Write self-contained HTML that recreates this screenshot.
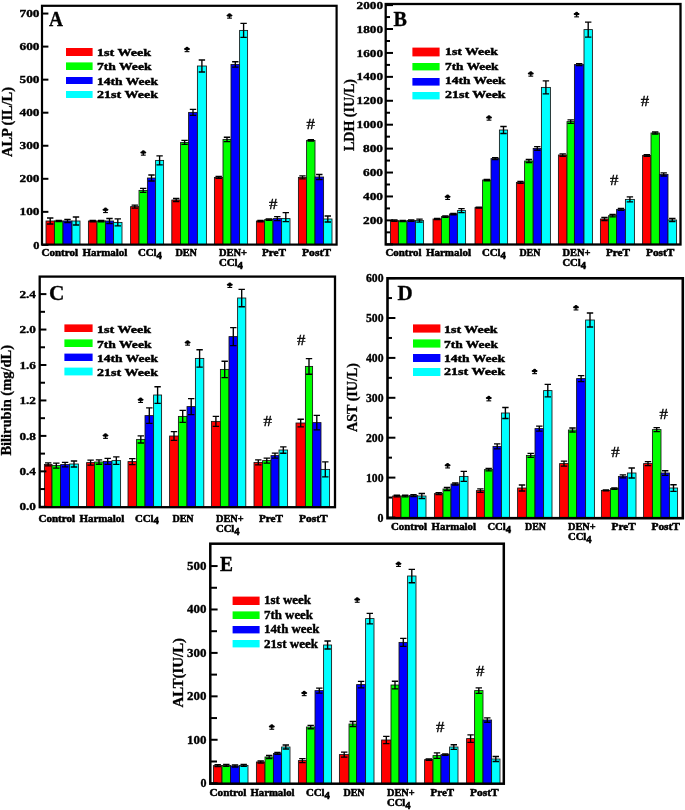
<!DOCTYPE html>
<html><head><meta charset="utf-8"><title>Figure</title>
<style>html,body{margin:0;padding:0;background:#fff;}svg{display:block;will-change:transform;}text{font-family:"Liberation Serif",serif;}</style></head>
<body>
<svg width="685" height="810" viewBox="0 0 685 810" font-family="'Liberation Serif', serif" fill="#000">
<rect width="685" height="810" fill="#fff"/>
<g>
<rect x="46.00" y="221.00" width="8.40" height="23.60" fill="#ff0000" stroke="#151515" stroke-width="0.85"/>
<rect x="54.40" y="221.00" width="8.60" height="23.60" fill="#00ff00" stroke="#151515" stroke-width="0.85"/>
<rect x="63.00" y="221.00" width="9.00" height="23.60" fill="#0000ff" stroke="#151515" stroke-width="0.85"/>
<rect x="72.00" y="221.00" width="8.00" height="23.60" fill="#00ffff" stroke="#151515" stroke-width="0.85"/>
<path d="M50.20 218.00V224.00M47.00 218.00H53.40M47.00 224.00H53.40" stroke="#000" stroke-width="1.35" fill="none"/>
<path d="M58.70 220.40V221.60M55.50 220.40H61.90M55.50 221.60H61.90" stroke="#000" stroke-width="1.35" fill="none"/>
<path d="M67.50 219.50V222.50M64.30 219.50H70.70M64.30 222.50H70.70" stroke="#000" stroke-width="1.35" fill="none"/>
<path d="M76.00 217.00V225.00M72.80 217.00H79.20M72.80 225.00H79.20" stroke="#000" stroke-width="1.35" fill="none"/>
<rect x="88.40" y="221.00" width="8.60" height="23.60" fill="#ff0000" stroke="#151515" stroke-width="0.85"/>
<rect x="97.00" y="221.00" width="8.40" height="23.60" fill="#00ff00" stroke="#151515" stroke-width="0.85"/>
<rect x="105.40" y="221.00" width="8.20" height="23.60" fill="#0000ff" stroke="#151515" stroke-width="0.85"/>
<rect x="113.60" y="222.40" width="8.40" height="22.20" fill="#00ffff" stroke="#151515" stroke-width="0.85"/>
<path d="M92.70 220.30V221.70M89.50 220.30H95.90M89.50 221.70H95.90" stroke="#000" stroke-width="1.35" fill="none"/>
<path d="M101.20 220.30V221.70M98.00 220.30H104.40M98.00 221.70H104.40" stroke="#000" stroke-width="1.35" fill="none"/>
<path d="M109.50 218.50V223.50M106.30 218.50H112.70M106.30 223.50H112.70" stroke="#000" stroke-width="1.35" fill="none"/>
<path d="M117.80 218.90V225.90M114.60 218.90H121.00M114.60 225.90H121.00" stroke="#000" stroke-width="1.35" fill="none"/>
<rect x="130.60" y="206.60" width="8.40" height="38.00" fill="#ff0000" stroke="#151515" stroke-width="0.85"/>
<rect x="139.00" y="190.40" width="8.40" height="54.20" fill="#00ff00" stroke="#151515" stroke-width="0.85"/>
<rect x="147.40" y="178.00" width="8.20" height="66.60" fill="#0000ff" stroke="#151515" stroke-width="0.85"/>
<rect x="155.60" y="160.40" width="8.00" height="84.20" fill="#00ffff" stroke="#151515" stroke-width="0.85"/>
<path d="M134.80 205.10V208.10M131.60 205.10H138.00M131.60 208.10H138.00" stroke="#000" stroke-width="1.35" fill="none"/>
<path d="M143.20 188.40V192.40M140.00 188.40H146.40M140.00 192.40H146.40" stroke="#000" stroke-width="1.35" fill="none"/>
<path d="M151.50 175.00V181.00M148.30 175.00H154.70M148.30 181.00H154.70" stroke="#000" stroke-width="1.35" fill="none"/>
<path d="M159.60 155.90V164.90M156.40 155.90H162.80M156.40 164.90H162.80" stroke="#000" stroke-width="1.35" fill="none"/>
<rect x="171.80" y="200.00" width="8.80" height="44.60" fill="#ff0000" stroke="#151515" stroke-width="0.85"/>
<rect x="180.60" y="142.40" width="8.00" height="102.20" fill="#00ff00" stroke="#151515" stroke-width="0.85"/>
<rect x="188.60" y="112.40" width="8.80" height="132.20" fill="#0000ff" stroke="#151515" stroke-width="0.85"/>
<rect x="197.40" y="66.00" width="9.00" height="178.60" fill="#00ffff" stroke="#151515" stroke-width="0.85"/>
<path d="M176.20 198.50V201.50M173.00 198.50H179.40M173.00 201.50H179.40" stroke="#000" stroke-width="1.35" fill="none"/>
<path d="M184.60 140.40V144.40M181.40 140.40H187.80M181.40 144.40H187.80" stroke="#000" stroke-width="1.35" fill="none"/>
<path d="M193.00 109.40V115.40M189.80 109.40H196.20M189.80 115.40H196.20" stroke="#000" stroke-width="1.35" fill="none"/>
<path d="M201.90 60.00V72.00M198.70 60.00H205.10M198.70 72.00H205.10" stroke="#000" stroke-width="1.35" fill="none"/>
<rect x="214.40" y="177.40" width="8.60" height="67.20" fill="#ff0000" stroke="#151515" stroke-width="0.85"/>
<rect x="223.00" y="139.40" width="8.00" height="105.20" fill="#00ff00" stroke="#151515" stroke-width="0.85"/>
<rect x="231.00" y="64.40" width="8.60" height="180.20" fill="#0000ff" stroke="#151515" stroke-width="0.85"/>
<rect x="239.60" y="30.40" width="8.00" height="214.20" fill="#00ffff" stroke="#151515" stroke-width="0.85"/>
<path d="M218.70 176.40V178.40M215.50 176.40H221.90M215.50 178.40H221.90" stroke="#000" stroke-width="1.35" fill="none"/>
<path d="M227.00 137.20V141.60M223.80 137.20H230.20M223.80 141.60H230.20" stroke="#000" stroke-width="1.35" fill="none"/>
<path d="M235.30 61.70V67.10M232.10 61.70H238.50M232.10 67.10H238.50" stroke="#000" stroke-width="1.35" fill="none"/>
<path d="M243.60 23.40V37.40M240.40 23.40H246.80M240.40 37.40H246.80" stroke="#000" stroke-width="1.35" fill="none"/>
<rect x="256.40" y="221.00" width="8.20" height="23.60" fill="#ff0000" stroke="#151515" stroke-width="0.85"/>
<rect x="264.60" y="219.60" width="8.40" height="25.00" fill="#00ff00" stroke="#151515" stroke-width="0.85"/>
<rect x="273.00" y="218.60" width="8.60" height="26.00" fill="#0000ff" stroke="#151515" stroke-width="0.85"/>
<rect x="281.60" y="218.60" width="8.40" height="26.00" fill="#00ffff" stroke="#151515" stroke-width="0.85"/>
<path d="M260.50 220.30V221.70M257.30 220.30H263.70M257.30 221.70H263.70" stroke="#000" stroke-width="1.35" fill="none"/>
<path d="M268.80 218.90V220.30M265.60 218.90H272.00M265.60 220.30H272.00" stroke="#000" stroke-width="1.35" fill="none"/>
<path d="M277.30 216.60V220.60M274.10 216.60H280.50M274.10 220.60H280.50" stroke="#000" stroke-width="1.35" fill="none"/>
<path d="M285.80 212.60V221.60M282.60 212.60H289.00M282.60 221.60H289.00" stroke="#000" stroke-width="1.35" fill="none"/>
<rect x="298.40" y="177.40" width="8.20" height="67.20" fill="#ff0000" stroke="#151515" stroke-width="0.85"/>
<rect x="306.60" y="140.40" width="8.40" height="104.20" fill="#00ff00" stroke="#151515" stroke-width="0.85"/>
<rect x="315.00" y="177.00" width="8.60" height="67.60" fill="#0000ff" stroke="#151515" stroke-width="0.85"/>
<rect x="323.60" y="219.00" width="8.40" height="25.60" fill="#00ffff" stroke="#151515" stroke-width="0.85"/>
<path d="M302.50 175.90V178.90M299.30 175.90H305.70M299.30 178.90H305.70" stroke="#000" stroke-width="1.35" fill="none"/>
<path d="M310.80 139.70V141.10M307.60 139.70H314.00M307.60 141.10H314.00" stroke="#000" stroke-width="1.35" fill="none"/>
<path d="M319.30 174.50V179.50M316.10 174.50H322.50M316.10 179.50H322.50" stroke="#000" stroke-width="1.35" fill="none"/>
<path d="M327.80 216.00V222.00M324.60 216.00H331.00M324.60 222.00H331.00" stroke="#000" stroke-width="1.35" fill="none"/>
<rect x="42.0" y="5.8" width="294.60" height="238.80" fill="none" stroke="#000" stroke-width="2.2"/>
<line x1="42.0" x2="48.4" y1="244.90" y2="244.90" stroke="#000" stroke-width="2"/>
<line x1="42.0" x2="48.4" y1="211.85" y2="211.85" stroke="#000" stroke-width="2"/>
<line x1="42.0" x2="48.4" y1="178.80" y2="178.80" stroke="#000" stroke-width="2"/>
<line x1="42.0" x2="48.4" y1="145.75" y2="145.75" stroke="#000" stroke-width="2"/>
<line x1="42.0" x2="48.4" y1="112.70" y2="112.70" stroke="#000" stroke-width="2"/>
<line x1="42.0" x2="48.4" y1="79.65" y2="79.65" stroke="#000" stroke-width="2"/>
<line x1="42.0" x2="48.4" y1="46.60" y2="46.60" stroke="#000" stroke-width="2"/>
<line x1="42.0" x2="48.4" y1="13.55" y2="13.55" stroke="#000" stroke-width="2"/>
<text x="39.5" y="248.5" font-size="10.5" font-weight="bold" text-anchor="end" textLength="6.2" lengthAdjust="spacingAndGlyphs" stroke="#000" stroke-width="0.35">0</text>
<text x="39.5" y="215.4" font-size="10.5" font-weight="bold" text-anchor="end" textLength="20.0" lengthAdjust="spacingAndGlyphs" stroke="#000" stroke-width="0.35">100</text>
<text x="39.5" y="182.4" font-size="10.5" font-weight="bold" text-anchor="end" textLength="20.0" lengthAdjust="spacingAndGlyphs" stroke="#000" stroke-width="0.35">200</text>
<text x="39.5" y="149.3" font-size="10.5" font-weight="bold" text-anchor="end" textLength="20.0" lengthAdjust="spacingAndGlyphs" stroke="#000" stroke-width="0.35">300</text>
<text x="39.5" y="116.3" font-size="10.5" font-weight="bold" text-anchor="end" textLength="20.0" lengthAdjust="spacingAndGlyphs" stroke="#000" stroke-width="0.35">400</text>
<text x="39.5" y="83.2" font-size="10.5" font-weight="bold" text-anchor="end" textLength="20.0" lengthAdjust="spacingAndGlyphs" stroke="#000" stroke-width="0.35">500</text>
<text x="39.5" y="50.2" font-size="10.5" font-weight="bold" text-anchor="end" textLength="20.0" lengthAdjust="spacingAndGlyphs" stroke="#000" stroke-width="0.35">600</text>
<text x="39.5" y="17.1" font-size="10.5" font-weight="bold" text-anchor="end" textLength="20.0" lengthAdjust="spacingAndGlyphs" stroke="#000" stroke-width="0.35">700</text>
<text x="41.6" y="256.0" font-size="10" font-weight="bold" text-anchor="start" textLength="36.4" lengthAdjust="spacingAndGlyphs" stroke="#000" stroke-width="0.5">Control</text>
<text x="82.4" y="256.0" font-size="10" font-weight="bold" text-anchor="start" textLength="45.0" lengthAdjust="spacingAndGlyphs" stroke="#000" stroke-width="0.5">Harmalol</text>
<text x="138.0" y="256.0" font-size="10" font-weight="bold" text-anchor="start" textLength="24.0" lengthAdjust="spacingAndGlyphs" stroke="#000" stroke-width="0.5">CCl<tspan font-size="10" dy="2.6">4</tspan></text>
<text x="175.4" y="256.0" font-size="10" font-weight="bold" text-anchor="start" textLength="21.6" lengthAdjust="spacingAndGlyphs" stroke="#000" stroke-width="0.5">DEN</text>
<text x="219.0" y="256.0" font-size="10" font-weight="bold" text-anchor="start" textLength="28.0" lengthAdjust="spacingAndGlyphs" stroke="#000" stroke-width="0.5">DEN+</text>
<text x="219.0" y="266.0" font-size="10" font-weight="bold" text-anchor="start" textLength="24.0" lengthAdjust="spacingAndGlyphs" stroke="#000" stroke-width="0.5">CCl<tspan font-size="10" dy="2.6">4</tspan></text>
<text x="262.0" y="256.0" font-size="10" font-weight="bold" text-anchor="start" textLength="24.0" lengthAdjust="spacingAndGlyphs" stroke="#000" stroke-width="0.5">PreT</text>
<text x="302.0" y="256.0" font-size="10" font-weight="bold" text-anchor="start" textLength="29.0" lengthAdjust="spacingAndGlyphs" stroke="#000" stroke-width="0.5">PostT</text>
<text x="49.0" y="25.6" font-size="22" font-weight="bold" text-anchor="start" textLength="14.0" lengthAdjust="spacingAndGlyphs" stroke="#000" stroke-width="0.35">A</text>
<rect x="66" y="48" width="26.60" height="8.00" fill="#ff0000"/>
<rect x="66" y="62.4" width="26.60" height="7.60" fill="#00ff00"/>
<rect x="66" y="77" width="26.60" height="7.00" fill="#0000ff"/>
<rect x="66" y="91" width="26.60" height="7.00" fill="#00ffff"/>
<text x="97.0" y="55.6" font-size="11" font-weight="bold" text-anchor="start" textLength="54.0" lengthAdjust="spacingAndGlyphs" stroke="#000" stroke-width="0.45">1st Week</text>
<text x="97.0" y="69.6" font-size="11" font-weight="bold" text-anchor="start" textLength="54.5" lengthAdjust="spacingAndGlyphs" stroke="#000" stroke-width="0.45">7th Week</text>
<text x="97.0" y="84.6" font-size="11" font-weight="bold" text-anchor="start" textLength="61.0" lengthAdjust="spacingAndGlyphs" stroke="#000" stroke-width="0.45">14th Week</text>
<text x="97.0" y="98.0" font-size="11" font-weight="bold" text-anchor="start" textLength="61.0" lengthAdjust="spacingAndGlyphs" stroke="#000" stroke-width="0.45">21st Week</text>
<text transform="translate(12.3,122.0) rotate(-90)" font-size="14.5" font-weight="bold" stroke="#000" stroke-width="0.3" text-anchor="middle" textLength="70" lengthAdjust="spacingAndGlyphs">ALP (IL/L)</text>
<g transform="translate(105.5,210.4)"><ellipse cx="0" cy="-0.6" rx="3.1" ry="1.25"/><ellipse cx="0" cy="-1.5" rx="1.5" ry="1.35"/><rect x="-0.7" y="-0.5" width="1.4" height="2.6"/><rect x="-2.4" y="1.6" width="4.8" height="1.1"/></g>
<g transform="translate(143.3,153.0)"><ellipse cx="0" cy="-0.6" rx="3.1" ry="1.25"/><ellipse cx="0" cy="-1.5" rx="1.5" ry="1.35"/><rect x="-0.7" y="-0.5" width="1.4" height="2.6"/><rect x="-2.4" y="1.6" width="4.8" height="1.1"/></g>
<g transform="translate(187.0,49.5)"><ellipse cx="0" cy="-0.6" rx="3.1" ry="1.25"/><ellipse cx="0" cy="-1.5" rx="1.5" ry="1.35"/><rect x="-0.7" y="-0.5" width="1.4" height="2.6"/><rect x="-2.4" y="1.6" width="4.8" height="1.1"/></g>
<g transform="translate(229.5,16.0)"><ellipse cx="0" cy="-0.6" rx="3.1" ry="1.25"/><ellipse cx="0" cy="-1.5" rx="1.5" ry="1.35"/><rect x="-0.7" y="-0.5" width="1.4" height="2.6"/><rect x="-2.4" y="1.6" width="4.8" height="1.1"/></g>
<text x="269.1" y="209.2" font-size="15" font-weight="normal" textLength="8.4" lengthAdjust="spacingAndGlyphs" stroke="#000" stroke-width="0.35">#</text>
<text x="306.4" y="128.8" font-size="15" font-weight="normal" textLength="8.4" lengthAdjust="spacingAndGlyphs" stroke="#000" stroke-width="0.35">#</text>
</g>
<g>
<rect x="390.40" y="220.60" width="8.00" height="23.90" fill="#ff0000" stroke="#151515" stroke-width="0.85"/>
<rect x="398.40" y="221.00" width="8.60" height="23.50" fill="#00ff00" stroke="#151515" stroke-width="0.85"/>
<rect x="407.00" y="220.60" width="8.40" height="23.90" fill="#0000ff" stroke="#151515" stroke-width="0.85"/>
<rect x="415.40" y="220.60" width="8.20" height="23.90" fill="#00ffff" stroke="#151515" stroke-width="0.85"/>
<path d="M394.40 219.90V221.30M391.20 219.90H397.60M391.20 221.30H397.60" stroke="#000" stroke-width="1.35" fill="none"/>
<path d="M402.70 220.50V221.50M399.50 220.50H405.90M399.50 221.50H405.90" stroke="#000" stroke-width="1.35" fill="none"/>
<path d="M411.20 219.90V221.30M408.00 219.90H414.40M408.00 221.30H414.40" stroke="#000" stroke-width="1.35" fill="none"/>
<path d="M419.50 219.10V222.10M416.30 219.10H422.70M416.30 222.10H422.70" stroke="#000" stroke-width="1.35" fill="none"/>
<rect x="433.00" y="219.00" width="8.40" height="25.50" fill="#ff0000" stroke="#151515" stroke-width="0.85"/>
<rect x="441.40" y="216.60" width="8.00" height="27.90" fill="#00ff00" stroke="#151515" stroke-width="0.85"/>
<rect x="449.40" y="214.00" width="8.00" height="30.50" fill="#0000ff" stroke="#151515" stroke-width="0.85"/>
<rect x="457.40" y="210.60" width="8.20" height="33.90" fill="#00ffff" stroke="#151515" stroke-width="0.85"/>
<path d="M437.20 218.50V219.50M434.00 218.50H440.40M434.00 219.50H440.40" stroke="#000" stroke-width="1.35" fill="none"/>
<path d="M445.40 215.90V217.30M442.20 215.90H448.60M442.20 217.30H448.60" stroke="#000" stroke-width="1.35" fill="none"/>
<path d="M453.40 213.30V214.70M450.20 213.30H456.60M450.20 214.70H456.60" stroke="#000" stroke-width="1.35" fill="none"/>
<path d="M461.50 208.60V212.60M458.30 208.60H464.70M458.30 212.60H464.70" stroke="#000" stroke-width="1.35" fill="none"/>
<rect x="475.00" y="207.60" width="7.60" height="36.90" fill="#ff0000" stroke="#151515" stroke-width="0.85"/>
<rect x="482.60" y="180.00" width="8.40" height="64.50" fill="#00ff00" stroke="#151515" stroke-width="0.85"/>
<rect x="491.00" y="158.60" width="8.40" height="85.90" fill="#0000ff" stroke="#151515" stroke-width="0.85"/>
<rect x="499.40" y="130.00" width="8.20" height="114.50" fill="#00ffff" stroke="#151515" stroke-width="0.85"/>
<path d="M478.80 207.10V208.10M475.60 207.10H482.00M475.60 208.10H482.00" stroke="#000" stroke-width="1.35" fill="none"/>
<path d="M486.80 179.30V180.70M483.60 179.30H490.00M483.60 180.70H490.00" stroke="#000" stroke-width="1.35" fill="none"/>
<path d="M495.20 157.60V159.60M492.00 157.60H498.40M492.00 159.60H498.40" stroke="#000" stroke-width="1.35" fill="none"/>
<path d="M503.50 126.50V133.50M500.30 126.50H506.70M500.30 133.50H506.70" stroke="#000" stroke-width="1.35" fill="none"/>
<rect x="516.40" y="182.40" width="8.20" height="62.10" fill="#ff0000" stroke="#151515" stroke-width="0.85"/>
<rect x="524.60" y="161.00" width="8.60" height="83.50" fill="#00ff00" stroke="#151515" stroke-width="0.85"/>
<rect x="533.20" y="148.40" width="8.20" height="96.10" fill="#0000ff" stroke="#151515" stroke-width="0.85"/>
<rect x="541.40" y="87.40" width="9.00" height="157.10" fill="#00ffff" stroke="#151515" stroke-width="0.85"/>
<path d="M520.50 181.40V183.40M517.30 181.40H523.70M517.30 183.40H523.70" stroke="#000" stroke-width="1.35" fill="none"/>
<path d="M528.90 159.50V162.50M525.70 159.50H532.10M525.70 162.50H532.10" stroke="#000" stroke-width="1.35" fill="none"/>
<path d="M537.30 146.60V150.20M534.10 146.60H540.50M534.10 150.20H540.50" stroke="#000" stroke-width="1.35" fill="none"/>
<path d="M545.90 80.90V93.90M542.70 80.90H549.10M542.70 93.90H549.10" stroke="#000" stroke-width="1.35" fill="none"/>
<rect x="558.40" y="155.00" width="8.60" height="89.50" fill="#ff0000" stroke="#151515" stroke-width="0.85"/>
<rect x="567.00" y="121.60" width="7.40" height="122.90" fill="#00ff00" stroke="#151515" stroke-width="0.85"/>
<rect x="574.40" y="64.60" width="9.60" height="179.90" fill="#0000ff" stroke="#151515" stroke-width="0.85"/>
<rect x="584.00" y="29.60" width="8.40" height="214.90" fill="#00ffff" stroke="#151515" stroke-width="0.85"/>
<path d="M562.70 153.80V156.20M559.50 153.80H565.90M559.50 156.20H565.90" stroke="#000" stroke-width="1.35" fill="none"/>
<path d="M570.70 119.90V123.30M567.50 119.90H573.90M567.50 123.30H573.90" stroke="#000" stroke-width="1.35" fill="none"/>
<path d="M579.20 63.60V65.60M576.00 63.60H582.40M576.00 65.60H582.40" stroke="#000" stroke-width="1.35" fill="none"/>
<path d="M588.20 22.10V37.10M585.00 22.10H591.40M585.00 37.10H591.40" stroke="#000" stroke-width="1.35" fill="none"/>
<rect x="600.40" y="219.00" width="8.20" height="25.50" fill="#ff0000" stroke="#151515" stroke-width="0.85"/>
<rect x="608.60" y="215.60" width="8.00" height="28.90" fill="#00ff00" stroke="#151515" stroke-width="0.85"/>
<rect x="616.60" y="209.40" width="8.80" height="35.10" fill="#0000ff" stroke="#151515" stroke-width="0.85"/>
<rect x="625.40" y="199.40" width="9.00" height="45.10" fill="#00ffff" stroke="#151515" stroke-width="0.85"/>
<path d="M604.50 217.50V220.50M601.30 217.50H607.70M601.30 220.50H607.70" stroke="#000" stroke-width="1.35" fill="none"/>
<path d="M612.60 214.40V216.80M609.40 214.40H615.80M609.40 216.80H615.80" stroke="#000" stroke-width="1.35" fill="none"/>
<path d="M621.00 208.40V210.40M617.80 208.40H624.20M617.80 210.40H624.20" stroke="#000" stroke-width="1.35" fill="none"/>
<path d="M629.90 196.90V201.90M626.70 196.90H633.10M626.70 201.90H633.10" stroke="#000" stroke-width="1.35" fill="none"/>
<rect x="642.60" y="155.40" width="8.40" height="89.10" fill="#ff0000" stroke="#151515" stroke-width="0.85"/>
<rect x="651.00" y="133.00" width="8.40" height="111.50" fill="#00ff00" stroke="#151515" stroke-width="0.85"/>
<rect x="659.40" y="174.40" width="8.60" height="70.10" fill="#0000ff" stroke="#151515" stroke-width="0.85"/>
<rect x="668.00" y="220.00" width="8.60" height="24.50" fill="#00ffff" stroke="#151515" stroke-width="0.85"/>
<path d="M646.80 154.60V156.20M643.60 154.60H650.00M643.60 156.20H650.00" stroke="#000" stroke-width="1.35" fill="none"/>
<path d="M655.20 132.00V134.00M652.00 132.00H658.40M652.00 134.00H658.40" stroke="#000" stroke-width="1.35" fill="none"/>
<path d="M663.70 172.80V176.00M660.50 172.80H666.90M660.50 176.00H666.90" stroke="#000" stroke-width="1.35" fill="none"/>
<path d="M672.30 218.50V221.50M669.10 218.50H675.50M669.10 221.50H675.50" stroke="#000" stroke-width="1.35" fill="none"/>
<rect x="385.7" y="4.0" width="294.80" height="240.50" fill="none" stroke="#000" stroke-width="2.3"/>
<line x1="385.7" x2="393" y1="244.30" y2="244.30" stroke="#000" stroke-width="2"/>
<line x1="385.7" x2="393" y1="220.38" y2="220.38" stroke="#000" stroke-width="2"/>
<line x1="385.7" x2="393" y1="196.46" y2="196.46" stroke="#000" stroke-width="2"/>
<line x1="385.7" x2="393" y1="172.54" y2="172.54" stroke="#000" stroke-width="2"/>
<line x1="385.7" x2="393" y1="148.62" y2="148.62" stroke="#000" stroke-width="2"/>
<line x1="385.7" x2="393" y1="124.70" y2="124.70" stroke="#000" stroke-width="2"/>
<line x1="385.7" x2="393" y1="100.78" y2="100.78" stroke="#000" stroke-width="2"/>
<line x1="385.7" x2="393" y1="76.86" y2="76.86" stroke="#000" stroke-width="2"/>
<line x1="385.7" x2="393" y1="52.94" y2="52.94" stroke="#000" stroke-width="2"/>
<line x1="385.7" x2="393" y1="29.02" y2="29.02" stroke="#000" stroke-width="2"/>
<line x1="385.7" x2="393" y1="5.10" y2="5.10" stroke="#000" stroke-width="2"/>
<line x1="385.7" x2="390" y1="232.34" y2="232.34" stroke="#000" stroke-width="2"/>
<line x1="385.7" x2="390" y1="208.42" y2="208.42" stroke="#000" stroke-width="2"/>
<line x1="385.7" x2="390" y1="184.50" y2="184.50" stroke="#000" stroke-width="2"/>
<line x1="385.7" x2="390" y1="160.58" y2="160.58" stroke="#000" stroke-width="2"/>
<line x1="385.7" x2="390" y1="136.66" y2="136.66" stroke="#000" stroke-width="2"/>
<line x1="385.7" x2="390" y1="112.74" y2="112.74" stroke="#000" stroke-width="2"/>
<line x1="385.7" x2="390" y1="88.82" y2="88.82" stroke="#000" stroke-width="2"/>
<line x1="385.7" x2="390" y1="64.90" y2="64.90" stroke="#000" stroke-width="2"/>
<line x1="385.7" x2="390" y1="40.98" y2="40.98" stroke="#000" stroke-width="2"/>
<line x1="385.7" x2="390" y1="17.06" y2="17.06" stroke="#000" stroke-width="2"/>
<text x="383.0" y="223.9" font-size="10.5" font-weight="bold" text-anchor="end" textLength="20.0" lengthAdjust="spacingAndGlyphs" stroke="#000" stroke-width="0.35">200</text>
<text x="383.0" y="200.0" font-size="10.5" font-weight="bold" text-anchor="end" textLength="20.0" lengthAdjust="spacingAndGlyphs" stroke="#000" stroke-width="0.35">400</text>
<text x="383.0" y="176.1" font-size="10.5" font-weight="bold" text-anchor="end" textLength="20.0" lengthAdjust="spacingAndGlyphs" stroke="#000" stroke-width="0.35">600</text>
<text x="383.0" y="152.2" font-size="10.5" font-weight="bold" text-anchor="end" textLength="20.0" lengthAdjust="spacingAndGlyphs" stroke="#000" stroke-width="0.35">800</text>
<text x="383.0" y="128.3" font-size="10.5" font-weight="bold" text-anchor="end" textLength="26.4" lengthAdjust="spacingAndGlyphs" stroke="#000" stroke-width="0.35">1000</text>
<text x="383.0" y="104.3" font-size="10.5" font-weight="bold" text-anchor="end" textLength="26.4" lengthAdjust="spacingAndGlyphs" stroke="#000" stroke-width="0.35">1200</text>
<text x="383.0" y="80.4" font-size="10.5" font-weight="bold" text-anchor="end" textLength="26.4" lengthAdjust="spacingAndGlyphs" stroke="#000" stroke-width="0.35">1400</text>
<text x="383.0" y="56.5" font-size="10.5" font-weight="bold" text-anchor="end" textLength="26.4" lengthAdjust="spacingAndGlyphs" stroke="#000" stroke-width="0.35">1600</text>
<text x="383.0" y="32.6" font-size="10.5" font-weight="bold" text-anchor="end" textLength="26.4" lengthAdjust="spacingAndGlyphs" stroke="#000" stroke-width="0.35">1800</text>
<text x="383.0" y="8.7" font-size="10.5" font-weight="bold" text-anchor="end" textLength="26.4" lengthAdjust="spacingAndGlyphs" stroke="#000" stroke-width="0.35">2000</text>
<text x="385.4" y="256.0" font-size="10" font-weight="bold" text-anchor="start" textLength="36.2" lengthAdjust="spacingAndGlyphs" stroke="#000" stroke-width="0.5">Control</text>
<text x="426.0" y="256.0" font-size="10" font-weight="bold" text-anchor="start" textLength="45.0" lengthAdjust="spacingAndGlyphs" stroke="#000" stroke-width="0.5">Harmalol</text>
<text x="482.0" y="256.0" font-size="10" font-weight="bold" text-anchor="start" textLength="24.0" lengthAdjust="spacingAndGlyphs" stroke="#000" stroke-width="0.5">CCl<tspan font-size="10" dy="2.6">4</tspan></text>
<text x="519.4" y="256.0" font-size="10" font-weight="bold" text-anchor="start" textLength="21.0" lengthAdjust="spacingAndGlyphs" stroke="#000" stroke-width="0.5">DEN</text>
<text x="562.4" y="256.0" font-size="10" font-weight="bold" text-anchor="start" textLength="28.0" lengthAdjust="spacingAndGlyphs" stroke="#000" stroke-width="0.5">DEN+</text>
<text x="562.4" y="266.0" font-size="10" font-weight="bold" text-anchor="start" textLength="23.6" lengthAdjust="spacingAndGlyphs" stroke="#000" stroke-width="0.5">CCl<tspan font-size="10" dy="2.6">4</tspan></text>
<text x="606.0" y="256.0" font-size="10" font-weight="bold" text-anchor="start" textLength="24.0" lengthAdjust="spacingAndGlyphs" stroke="#000" stroke-width="0.5">PreT</text>
<text x="646.0" y="256.0" font-size="10" font-weight="bold" text-anchor="start" textLength="28.4" lengthAdjust="spacingAndGlyphs" stroke="#000" stroke-width="0.5">PostT</text>
<text x="393.6" y="25.6" font-size="22" font-weight="bold" text-anchor="start" textLength="13.4" lengthAdjust="spacingAndGlyphs" stroke="#000" stroke-width="0.35">B</text>
<rect x="412.4" y="47.6" width="27.20" height="8.80" fill="#ff0000"/>
<rect x="412.4" y="63" width="27.20" height="7.40" fill="#00ff00"/>
<rect x="412.4" y="78" width="27.20" height="7.60" fill="#0000ff"/>
<rect x="412.4" y="92" width="27.20" height="7.40" fill="#00ffff"/>
<text x="445.0" y="55.4" font-size="11" font-weight="bold" text-anchor="start" textLength="53.0" lengthAdjust="spacingAndGlyphs" stroke="#000" stroke-width="0.45">1st Week</text>
<text x="445.0" y="69.6" font-size="11" font-weight="bold" text-anchor="start" textLength="53.5" lengthAdjust="spacingAndGlyphs" stroke="#000" stroke-width="0.45">7th Week</text>
<text x="445.0" y="84.4" font-size="11" font-weight="bold" text-anchor="start" textLength="60.6" lengthAdjust="spacingAndGlyphs" stroke="#000" stroke-width="0.45">14th Week</text>
<text x="445.0" y="98.0" font-size="11" font-weight="bold" text-anchor="start" textLength="60.6" lengthAdjust="spacingAndGlyphs" stroke="#000" stroke-width="0.45">21st Week</text>
<text transform="translate(354.2,115.0) rotate(-90)" font-size="14.5" font-weight="bold" stroke="#000" stroke-width="0.3" text-anchor="middle" textLength="72" lengthAdjust="spacingAndGlyphs">LDH (IU/L)</text>
<g transform="translate(447.6,197.3)"><ellipse cx="0" cy="-0.6" rx="3.1" ry="1.25"/><ellipse cx="0" cy="-1.5" rx="1.5" ry="1.35"/><rect x="-0.7" y="-0.5" width="1.4" height="2.6"/><rect x="-2.4" y="1.6" width="4.8" height="1.1"/></g>
<g transform="translate(489.0,118.0)"><ellipse cx="0" cy="-0.6" rx="3.1" ry="1.25"/><ellipse cx="0" cy="-1.5" rx="1.5" ry="1.35"/><rect x="-0.7" y="-0.5" width="1.4" height="2.6"/><rect x="-2.4" y="1.6" width="4.8" height="1.1"/></g>
<g transform="translate(530.8,74.0)"><ellipse cx="0" cy="-0.6" rx="3.1" ry="1.25"/><ellipse cx="0" cy="-1.5" rx="1.5" ry="1.35"/><rect x="-0.7" y="-0.5" width="1.4" height="2.6"/><rect x="-2.4" y="1.6" width="4.8" height="1.1"/></g>
<g transform="translate(576.6,14.7)"><ellipse cx="0" cy="-0.6" rx="3.1" ry="1.25"/><ellipse cx="0" cy="-1.5" rx="1.5" ry="1.35"/><rect x="-0.7" y="-0.5" width="1.4" height="2.6"/><rect x="-2.4" y="1.6" width="4.8" height="1.1"/></g>
<text x="610.0" y="184.5" font-size="15" font-weight="normal" textLength="8.4" lengthAdjust="spacingAndGlyphs" stroke="#000" stroke-width="0.35">#</text>
<text x="640.8" y="106.0" font-size="15" font-weight="normal" textLength="8.4" lengthAdjust="spacingAndGlyphs" stroke="#000" stroke-width="0.35">#</text>
</g>
<g>
<rect x="44.40" y="464.40" width="7.60" height="42.80" fill="#ff0000" stroke="#151515" stroke-width="0.85"/>
<rect x="52.00" y="465.60" width="8.60" height="41.60" fill="#00ff00" stroke="#151515" stroke-width="0.85"/>
<rect x="60.60" y="464.60" width="9.00" height="42.60" fill="#0000ff" stroke="#151515" stroke-width="0.85"/>
<rect x="69.60" y="464.00" width="8.80" height="43.20" fill="#00ffff" stroke="#151515" stroke-width="0.85"/>
<path d="M48.20 462.90V465.90M45.00 462.90H51.40M45.00 465.90H51.40" stroke="#000" stroke-width="1.35" fill="none"/>
<path d="M56.30 463.10V468.10M53.10 463.10H59.50M53.10 468.10H59.50" stroke="#000" stroke-width="1.35" fill="none"/>
<path d="M65.10 462.40V466.80M61.90 462.40H68.30M61.90 466.80H68.30" stroke="#000" stroke-width="1.35" fill="none"/>
<path d="M74.00 461.00V467.00M70.80 461.00H77.20M70.80 467.00H77.20" stroke="#000" stroke-width="1.35" fill="none"/>
<rect x="86.60" y="462.60" width="8.00" height="44.60" fill="#ff0000" stroke="#151515" stroke-width="0.85"/>
<rect x="94.60" y="462.00" width="8.80" height="45.20" fill="#00ff00" stroke="#151515" stroke-width="0.85"/>
<rect x="103.40" y="461.40" width="8.60" height="45.80" fill="#0000ff" stroke="#151515" stroke-width="0.85"/>
<rect x="112.00" y="460.60" width="8.60" height="46.60" fill="#00ffff" stroke="#151515" stroke-width="0.85"/>
<path d="M90.60 460.10V465.10M87.40 460.10H93.80M87.40 465.10H93.80" stroke="#000" stroke-width="1.35" fill="none"/>
<path d="M99.00 459.80V464.20M95.80 459.80H102.20M95.80 464.20H102.20" stroke="#000" stroke-width="1.35" fill="none"/>
<path d="M107.70 458.40V464.40M104.50 458.40H110.90M104.50 464.40H110.90" stroke="#000" stroke-width="1.35" fill="none"/>
<path d="M116.30 456.90V464.30M113.10 456.90H119.50M113.10 464.30H119.50" stroke="#000" stroke-width="1.35" fill="none"/>
<rect x="128.00" y="461.60" width="8.60" height="45.60" fill="#ff0000" stroke="#151515" stroke-width="0.85"/>
<rect x="136.60" y="439.40" width="8.40" height="67.80" fill="#00ff00" stroke="#151515" stroke-width="0.85"/>
<rect x="145.00" y="415.60" width="8.60" height="91.60" fill="#0000ff" stroke="#151515" stroke-width="0.85"/>
<rect x="153.60" y="395.00" width="8.00" height="112.20" fill="#00ffff" stroke="#151515" stroke-width="0.85"/>
<path d="M132.30 458.60V464.60M129.10 458.60H135.50M129.10 464.60H135.50" stroke="#000" stroke-width="1.35" fill="none"/>
<path d="M140.80 435.80V443.00M137.60 435.80H144.00M137.60 443.00H144.00" stroke="#000" stroke-width="1.35" fill="none"/>
<path d="M149.30 407.90V423.30M146.10 407.90H152.50M146.10 423.30H152.50" stroke="#000" stroke-width="1.35" fill="none"/>
<path d="M157.60 386.70V403.30M154.40 386.70H160.80M154.40 403.30H160.80" stroke="#000" stroke-width="1.35" fill="none"/>
<rect x="169.60" y="436.00" width="8.80" height="71.20" fill="#ff0000" stroke="#151515" stroke-width="0.85"/>
<rect x="178.40" y="416.40" width="8.60" height="90.80" fill="#00ff00" stroke="#151515" stroke-width="0.85"/>
<rect x="187.00" y="406.60" width="8.40" height="100.60" fill="#0000ff" stroke="#151515" stroke-width="0.85"/>
<rect x="195.40" y="358.40" width="8.40" height="148.80" fill="#00ffff" stroke="#151515" stroke-width="0.85"/>
<path d="M174.00 431.60V440.40M170.80 431.60H177.20M170.80 440.40H177.20" stroke="#000" stroke-width="1.35" fill="none"/>
<path d="M182.70 410.40V422.40M179.50 410.40H185.90M179.50 422.40H185.90" stroke="#000" stroke-width="1.35" fill="none"/>
<path d="M191.20 398.60V414.60M188.00 398.60H194.40M188.00 414.60H194.40" stroke="#000" stroke-width="1.35" fill="none"/>
<path d="M199.60 349.70V367.10M196.40 349.70H202.80M196.40 367.10H202.80" stroke="#000" stroke-width="1.35" fill="none"/>
<rect x="211.40" y="421.40" width="9.00" height="85.80" fill="#ff0000" stroke="#151515" stroke-width="0.85"/>
<rect x="220.40" y="369.40" width="8.60" height="137.80" fill="#00ff00" stroke="#151515" stroke-width="0.85"/>
<rect x="229.00" y="336.60" width="8.60" height="170.60" fill="#0000ff" stroke="#151515" stroke-width="0.85"/>
<rect x="237.60" y="298.00" width="8.20" height="209.20" fill="#00ffff" stroke="#151515" stroke-width="0.85"/>
<path d="M215.90 416.40V426.40M212.70 416.40H219.10M212.70 426.40H219.10" stroke="#000" stroke-width="1.35" fill="none"/>
<path d="M224.70 361.20V377.60M221.50 361.20H227.90M221.50 377.60H227.90" stroke="#000" stroke-width="1.35" fill="none"/>
<path d="M233.30 327.60V345.60M230.10 327.60H236.50M230.10 345.60H236.50" stroke="#000" stroke-width="1.35" fill="none"/>
<path d="M241.70 289.30V306.70M238.50 289.30H244.90M238.50 306.70H244.90" stroke="#000" stroke-width="1.35" fill="none"/>
<rect x="254.00" y="462.40" width="8.60" height="44.80" fill="#ff0000" stroke="#151515" stroke-width="0.85"/>
<rect x="262.60" y="460.60" width="8.40" height="46.60" fill="#00ff00" stroke="#151515" stroke-width="0.85"/>
<rect x="271.00" y="455.60" width="8.00" height="51.60" fill="#0000ff" stroke="#151515" stroke-width="0.85"/>
<rect x="279.00" y="450.00" width="8.60" height="57.20" fill="#00ffff" stroke="#151515" stroke-width="0.85"/>
<path d="M258.30 459.90V464.90M255.10 459.90H261.50M255.10 464.90H261.50" stroke="#000" stroke-width="1.35" fill="none"/>
<path d="M266.80 458.10V463.10M263.60 458.10H270.00M263.60 463.10H270.00" stroke="#000" stroke-width="1.35" fill="none"/>
<path d="M275.00 453.10V458.10M271.80 453.10H278.20M271.80 458.10H278.20" stroke="#000" stroke-width="1.35" fill="none"/>
<path d="M283.30 446.80V453.20M280.10 446.80H286.50M280.10 453.20H286.50" stroke="#000" stroke-width="1.35" fill="none"/>
<rect x="296.00" y="423.00" width="9.40" height="84.20" fill="#ff0000" stroke="#151515" stroke-width="0.85"/>
<rect x="305.40" y="366.40" width="7.20" height="140.80" fill="#00ff00" stroke="#151515" stroke-width="0.85"/>
<rect x="312.60" y="422.60" width="8.40" height="84.60" fill="#0000ff" stroke="#151515" stroke-width="0.85"/>
<rect x="321.00" y="469.40" width="8.60" height="37.80" fill="#00ffff" stroke="#151515" stroke-width="0.85"/>
<path d="M300.70 419.20V426.80M297.50 419.20H303.90M297.50 426.80H303.90" stroke="#000" stroke-width="1.35" fill="none"/>
<path d="M309.00 358.60V374.20M305.80 358.60H312.20M305.80 374.20H312.20" stroke="#000" stroke-width="1.35" fill="none"/>
<path d="M316.80 415.40V429.80M313.60 415.40H320.00M313.60 429.80H320.00" stroke="#000" stroke-width="1.35" fill="none"/>
<path d="M325.30 461.90V476.90M322.10 461.90H328.50M322.10 476.90H328.50" stroke="#000" stroke-width="1.35" fill="none"/>
<rect x="39.7" y="276.6" width="295.30" height="230.60" fill="none" stroke="#000" stroke-width="2.3"/>
<line x1="39.7" x2="46.4" y1="506.80" y2="506.80" stroke="#000" stroke-width="2"/>
<line x1="39.7" x2="46.4" y1="471.35" y2="471.35" stroke="#000" stroke-width="2"/>
<line x1="39.7" x2="46.4" y1="435.90" y2="435.90" stroke="#000" stroke-width="2"/>
<line x1="39.7" x2="46.4" y1="400.45" y2="400.45" stroke="#000" stroke-width="2"/>
<line x1="39.7" x2="46.4" y1="365.00" y2="365.00" stroke="#000" stroke-width="2"/>
<line x1="39.7" x2="46.4" y1="329.55" y2="329.55" stroke="#000" stroke-width="2"/>
<line x1="39.7" x2="46.4" y1="294.10" y2="294.10" stroke="#000" stroke-width="2"/>
<line x1="39.7" x2="45" y1="489.07" y2="489.07" stroke="#000" stroke-width="2"/>
<line x1="39.7" x2="45" y1="453.62" y2="453.62" stroke="#000" stroke-width="2"/>
<line x1="39.7" x2="45" y1="418.18" y2="418.18" stroke="#000" stroke-width="2"/>
<line x1="39.7" x2="45" y1="382.73" y2="382.73" stroke="#000" stroke-width="2"/>
<line x1="39.7" x2="45" y1="347.27" y2="347.27" stroke="#000" stroke-width="2"/>
<line x1="39.7" x2="45" y1="311.82" y2="311.82" stroke="#000" stroke-width="2"/>
<text x="36.0" y="510.4" font-size="10.5" font-weight="bold" text-anchor="end" textLength="16.6" lengthAdjust="spacingAndGlyphs" stroke="#000" stroke-width="0.35">0.0</text>
<text x="36.0" y="474.9" font-size="10.5" font-weight="bold" text-anchor="end" textLength="16.6" lengthAdjust="spacingAndGlyphs" stroke="#000" stroke-width="0.35">0.4</text>
<text x="36.0" y="439.5" font-size="10.5" font-weight="bold" text-anchor="end" textLength="16.6" lengthAdjust="spacingAndGlyphs" stroke="#000" stroke-width="0.35">0.8</text>
<text x="36.0" y="404.0" font-size="10.5" font-weight="bold" text-anchor="end" textLength="16.6" lengthAdjust="spacingAndGlyphs" stroke="#000" stroke-width="0.35">1.2</text>
<text x="36.0" y="368.6" font-size="10.5" font-weight="bold" text-anchor="end" textLength="16.6" lengthAdjust="spacingAndGlyphs" stroke="#000" stroke-width="0.35">1.6</text>
<text x="36.0" y="333.1" font-size="10.5" font-weight="bold" text-anchor="end" textLength="16.6" lengthAdjust="spacingAndGlyphs" stroke="#000" stroke-width="0.35">2.0</text>
<text x="36.0" y="297.7" font-size="10.5" font-weight="bold" text-anchor="end" textLength="16.6" lengthAdjust="spacingAndGlyphs" stroke="#000" stroke-width="0.35">2.4</text>
<text x="38.6" y="521.6" font-size="10" font-weight="bold" text-anchor="start" textLength="36.4" lengthAdjust="spacingAndGlyphs" stroke="#000" stroke-width="0.5">Control</text>
<text x="79.4" y="521.6" font-size="10" font-weight="bold" text-anchor="start" textLength="45.0" lengthAdjust="spacingAndGlyphs" stroke="#000" stroke-width="0.5">Harmalol</text>
<text x="135.0" y="521.6" font-size="10" font-weight="bold" text-anchor="start" textLength="24.0" lengthAdjust="spacingAndGlyphs" stroke="#000" stroke-width="0.5">CCl<tspan font-size="10" dy="2.6">4</tspan></text>
<text x="172.4" y="521.6" font-size="10" font-weight="bold" text-anchor="start" textLength="21.2" lengthAdjust="spacingAndGlyphs" stroke="#000" stroke-width="0.5">DEN</text>
<text x="216.0" y="521.6" font-size="10" font-weight="bold" text-anchor="start" textLength="27.6" lengthAdjust="spacingAndGlyphs" stroke="#000" stroke-width="0.5">DEN+</text>
<text x="216.0" y="532.0" font-size="10" font-weight="bold" text-anchor="start" textLength="23.6" lengthAdjust="spacingAndGlyphs" stroke="#000" stroke-width="0.5">CCl<tspan font-size="10" dy="2.6">4</tspan></text>
<text x="259.0" y="521.6" font-size="10" font-weight="bold" text-anchor="start" textLength="24.0" lengthAdjust="spacingAndGlyphs" stroke="#000" stroke-width="0.5">PreT</text>
<text x="299.0" y="521.6" font-size="10" font-weight="bold" text-anchor="start" textLength="28.6" lengthAdjust="spacingAndGlyphs" stroke="#000" stroke-width="0.5">PostT</text>
<text x="49.0" y="300.0" font-size="22" font-weight="bold" text-anchor="start" textLength="15.4" lengthAdjust="spacingAndGlyphs" stroke="#000" stroke-width="0.35">C</text>
<rect x="64.4" y="324.4" width="28.20" height="7.60" fill="#ff0000"/>
<rect x="64.4" y="339.4" width="28.20" height="7.60" fill="#00ff00"/>
<rect x="64.4" y="353.6" width="28.20" height="7.40" fill="#0000ff"/>
<rect x="64.4" y="367.6" width="28.20" height="7.80" fill="#00ffff"/>
<text x="97.0" y="333.0" font-size="11" font-weight="bold" text-anchor="start" textLength="54.0" lengthAdjust="spacingAndGlyphs" stroke="#000" stroke-width="0.45">1st Week</text>
<text x="97.0" y="347.6" font-size="11" font-weight="bold" text-anchor="start" textLength="54.5" lengthAdjust="spacingAndGlyphs" stroke="#000" stroke-width="0.45">7th Week</text>
<text x="97.0" y="362.0" font-size="11" font-weight="bold" text-anchor="start" textLength="61.0" lengthAdjust="spacingAndGlyphs" stroke="#000" stroke-width="0.45">14th Week</text>
<text x="97.0" y="375.6" font-size="11" font-weight="bold" text-anchor="start" textLength="61.0" lengthAdjust="spacingAndGlyphs" stroke="#000" stroke-width="0.45">21st Week</text>
<text transform="translate(11.4,400.3) rotate(-90)" font-size="14.5" font-weight="bold" stroke="#000" stroke-width="0.3" text-anchor="middle" textLength="110.6" lengthAdjust="spacingAndGlyphs">Bilirubin (mg/dL)</text>
<g transform="translate(105.5,436.2)"><ellipse cx="0" cy="-0.6" rx="3.1" ry="1.25"/><ellipse cx="0" cy="-1.5" rx="1.5" ry="1.35"/><rect x="-0.7" y="-0.5" width="1.4" height="2.6"/><rect x="-2.4" y="1.6" width="4.8" height="1.1"/></g>
<g transform="translate(140.6,400.3)"><ellipse cx="0" cy="-0.6" rx="3.1" ry="1.25"/><ellipse cx="0" cy="-1.5" rx="1.5" ry="1.35"/><rect x="-0.7" y="-0.5" width="1.4" height="2.6"/><rect x="-2.4" y="1.6" width="4.8" height="1.1"/></g>
<g transform="translate(187.6,343.0)"><ellipse cx="0" cy="-0.6" rx="3.1" ry="1.25"/><ellipse cx="0" cy="-1.5" rx="1.5" ry="1.35"/><rect x="-0.7" y="-0.5" width="1.4" height="2.6"/><rect x="-2.4" y="1.6" width="4.8" height="1.1"/></g>
<g transform="translate(229.8,285.3)"><ellipse cx="0" cy="-0.6" rx="3.1" ry="1.25"/><ellipse cx="0" cy="-1.5" rx="1.5" ry="1.35"/><rect x="-0.7" y="-0.5" width="1.4" height="2.6"/><rect x="-2.4" y="1.6" width="4.8" height="1.1"/></g>
<text x="263.6" y="425.5" font-size="15" font-weight="normal" textLength="8.4" lengthAdjust="spacingAndGlyphs" stroke="#000" stroke-width="0.35">#</text>
<text x="297.0" y="344.8" font-size="15" font-weight="normal" textLength="8.4" lengthAdjust="spacingAndGlyphs" stroke="#000" stroke-width="0.35">#</text>
</g>
<g>
<rect x="392.60" y="496.00" width="8.40" height="22.20" fill="#ff0000" stroke="#151515" stroke-width="0.85"/>
<rect x="401.00" y="496.00" width="8.40" height="22.20" fill="#00ff00" stroke="#151515" stroke-width="0.85"/>
<rect x="409.40" y="495.60" width="8.20" height="22.60" fill="#0000ff" stroke="#151515" stroke-width="0.85"/>
<rect x="417.60" y="496.00" width="8.40" height="22.20" fill="#00ffff" stroke="#151515" stroke-width="0.85"/>
<path d="M396.80 495.20V496.80M393.60 495.20H400.00M393.60 496.80H400.00" stroke="#000" stroke-width="1.35" fill="none"/>
<path d="M405.20 495.20V496.80M402.00 495.20H408.40M402.00 496.80H408.40" stroke="#000" stroke-width="1.35" fill="none"/>
<path d="M413.50 494.60V496.60M410.30 494.60H416.70M410.30 496.60H416.70" stroke="#000" stroke-width="1.35" fill="none"/>
<path d="M421.80 493.50V498.50M418.60 493.50H425.00M418.60 498.50H425.00" stroke="#000" stroke-width="1.35" fill="none"/>
<rect x="434.40" y="493.60" width="8.60" height="24.60" fill="#ff0000" stroke="#151515" stroke-width="0.85"/>
<rect x="443.00" y="489.00" width="8.00" height="29.20" fill="#00ff00" stroke="#151515" stroke-width="0.85"/>
<rect x="451.00" y="484.00" width="8.60" height="34.20" fill="#0000ff" stroke="#151515" stroke-width="0.85"/>
<rect x="459.60" y="476.40" width="8.40" height="41.80" fill="#00ffff" stroke="#151515" stroke-width="0.85"/>
<path d="M438.70 492.60V494.60M435.50 492.60H441.90M435.50 494.60H441.90" stroke="#000" stroke-width="1.35" fill="none"/>
<path d="M447.00 487.50V490.50M443.80 487.50H450.20M443.80 490.50H450.20" stroke="#000" stroke-width="1.35" fill="none"/>
<path d="M455.30 483.00V485.00M452.10 483.00H458.50M452.10 485.00H458.50" stroke="#000" stroke-width="1.35" fill="none"/>
<path d="M463.80 471.40V481.40M460.60 471.40H467.00M460.60 481.40H467.00" stroke="#000" stroke-width="1.35" fill="none"/>
<rect x="476.40" y="490.60" width="8.00" height="27.60" fill="#ff0000" stroke="#151515" stroke-width="0.85"/>
<rect x="484.40" y="469.60" width="8.60" height="48.60" fill="#00ff00" stroke="#151515" stroke-width="0.85"/>
<rect x="493.00" y="446.40" width="8.40" height="71.80" fill="#0000ff" stroke="#151515" stroke-width="0.85"/>
<rect x="501.40" y="413.00" width="8.00" height="105.20" fill="#00ffff" stroke="#151515" stroke-width="0.85"/>
<path d="M480.40 488.80V492.40M477.20 488.80H483.60M477.20 492.40H483.60" stroke="#000" stroke-width="1.35" fill="none"/>
<path d="M488.70 468.40V470.80M485.50 468.40H491.90M485.50 470.80H491.90" stroke="#000" stroke-width="1.35" fill="none"/>
<path d="M497.20 443.90V448.90M494.00 443.90H500.40M494.00 448.90H500.40" stroke="#000" stroke-width="1.35" fill="none"/>
<path d="M505.40 407.50V418.50M502.20 407.50H508.60M502.20 418.50H508.60" stroke="#000" stroke-width="1.35" fill="none"/>
<rect x="517.60" y="488.00" width="8.80" height="30.20" fill="#ff0000" stroke="#151515" stroke-width="0.85"/>
<rect x="526.40" y="455.40" width="8.60" height="62.80" fill="#00ff00" stroke="#151515" stroke-width="0.85"/>
<rect x="535.00" y="428.60" width="8.60" height="89.60" fill="#0000ff" stroke="#151515" stroke-width="0.85"/>
<rect x="543.60" y="390.60" width="8.40" height="127.60" fill="#00ffff" stroke="#151515" stroke-width="0.85"/>
<path d="M522.00 485.00V491.00M518.80 485.00H525.20M518.80 491.00H525.20" stroke="#000" stroke-width="1.35" fill="none"/>
<path d="M530.70 453.40V457.40M527.50 453.40H533.90M527.50 457.40H533.90" stroke="#000" stroke-width="1.35" fill="none"/>
<path d="M539.30 426.10V431.10M536.10 426.10H542.50M536.10 431.10H542.50" stroke="#000" stroke-width="1.35" fill="none"/>
<path d="M547.80 384.30V396.90M544.60 384.30H551.00M544.60 396.90H551.00" stroke="#000" stroke-width="1.35" fill="none"/>
<rect x="559.60" y="463.60" width="8.80" height="54.60" fill="#ff0000" stroke="#151515" stroke-width="0.85"/>
<rect x="568.40" y="430.00" width="8.20" height="88.20" fill="#00ff00" stroke="#151515" stroke-width="0.85"/>
<rect x="576.60" y="378.60" width="9.00" height="139.60" fill="#0000ff" stroke="#151515" stroke-width="0.85"/>
<rect x="585.60" y="320.00" width="8.80" height="198.20" fill="#00ffff" stroke="#151515" stroke-width="0.85"/>
<path d="M564.00 461.10V466.10M560.80 461.10H567.20M560.80 466.10H567.20" stroke="#000" stroke-width="1.35" fill="none"/>
<path d="M572.50 428.00V432.00M569.30 428.00H575.70M569.30 432.00H575.70" stroke="#000" stroke-width="1.35" fill="none"/>
<path d="M581.10 375.60V381.60M577.90 375.60H584.30M577.90 381.60H584.30" stroke="#000" stroke-width="1.35" fill="none"/>
<path d="M590.00 313.00V327.00M586.80 313.00H593.20M586.80 327.00H593.20" stroke="#000" stroke-width="1.35" fill="none"/>
<rect x="601.40" y="490.40" width="9.00" height="27.80" fill="#ff0000" stroke="#151515" stroke-width="0.85"/>
<rect x="610.40" y="488.60" width="8.00" height="29.60" fill="#00ff00" stroke="#151515" stroke-width="0.85"/>
<rect x="618.40" y="476.40" width="9.00" height="41.80" fill="#0000ff" stroke="#151515" stroke-width="0.85"/>
<rect x="627.40" y="473.00" width="8.60" height="45.20" fill="#00ffff" stroke="#151515" stroke-width="0.85"/>
<path d="M605.90 489.90V490.90M602.70 489.90H609.10M602.70 490.90H609.10" stroke="#000" stroke-width="1.35" fill="none"/>
<path d="M614.40 487.90V489.30M611.20 487.90H617.60M611.20 489.30H617.60" stroke="#000" stroke-width="1.35" fill="none"/>
<path d="M622.90 474.90V477.90M619.70 474.90H626.10M619.70 477.90H626.10" stroke="#000" stroke-width="1.35" fill="none"/>
<path d="M631.70 468.00V478.00M628.50 468.00H634.90M628.50 478.00H634.90" stroke="#000" stroke-width="1.35" fill="none"/>
<rect x="643.60" y="463.60" width="8.80" height="54.60" fill="#ff0000" stroke="#151515" stroke-width="0.85"/>
<rect x="652.40" y="429.60" width="8.60" height="88.60" fill="#00ff00" stroke="#151515" stroke-width="0.85"/>
<rect x="661.00" y="473.00" width="8.40" height="45.20" fill="#0000ff" stroke="#151515" stroke-width="0.85"/>
<rect x="669.40" y="488.00" width="8.20" height="30.20" fill="#00ffff" stroke="#151515" stroke-width="0.85"/>
<path d="M648.00 461.60V465.60M644.80 461.60H651.20M644.80 465.60H651.20" stroke="#000" stroke-width="1.35" fill="none"/>
<path d="M656.70 427.60V431.60M653.50 427.60H659.90M653.50 431.60H659.90" stroke="#000" stroke-width="1.35" fill="none"/>
<path d="M665.20 470.70V475.30M662.00 470.70H668.40M662.00 475.30H668.40" stroke="#000" stroke-width="1.35" fill="none"/>
<path d="M673.50 484.70V491.30M670.30 484.70H676.70M670.30 491.30H676.70" stroke="#000" stroke-width="1.35" fill="none"/>
<rect x="387.5" y="278.3" width="295.30" height="239.90" fill="none" stroke="#000" stroke-width="2.6"/>
<line x1="387.5" x2="395.4" y1="517.50" y2="517.50" stroke="#000" stroke-width="2"/>
<line x1="387.5" x2="395.4" y1="477.60" y2="477.60" stroke="#000" stroke-width="2"/>
<line x1="387.5" x2="395.4" y1="437.70" y2="437.70" stroke="#000" stroke-width="2"/>
<line x1="387.5" x2="395.4" y1="397.80" y2="397.80" stroke="#000" stroke-width="2"/>
<line x1="387.5" x2="395.4" y1="357.90" y2="357.90" stroke="#000" stroke-width="2"/>
<line x1="387.5" x2="395.4" y1="318.00" y2="318.00" stroke="#000" stroke-width="2"/>
<line x1="387.5" x2="395.4" y1="278.10" y2="278.10" stroke="#000" stroke-width="2"/>
<line x1="387.5" x2="392" y1="497.55" y2="497.55" stroke="#000" stroke-width="2"/>
<line x1="387.5" x2="392" y1="457.65" y2="457.65" stroke="#000" stroke-width="2"/>
<line x1="387.5" x2="392" y1="417.75" y2="417.75" stroke="#000" stroke-width="2"/>
<line x1="387.5" x2="392" y1="377.85" y2="377.85" stroke="#000" stroke-width="2"/>
<line x1="387.5" x2="392" y1="337.95" y2="337.95" stroke="#000" stroke-width="2"/>
<line x1="387.5" x2="392" y1="298.05" y2="298.05" stroke="#000" stroke-width="2"/>
<text x="383.6" y="521.6" font-size="12" font-weight="bold" text-anchor="end" textLength="6.0" lengthAdjust="spacingAndGlyphs" stroke="#000" stroke-width="0.35">0</text>
<text x="383.6" y="481.7" font-size="12" font-weight="bold" text-anchor="end" textLength="17.6" lengthAdjust="spacingAndGlyphs" stroke="#000" stroke-width="0.35">100</text>
<text x="383.6" y="441.8" font-size="12" font-weight="bold" text-anchor="end" textLength="17.6" lengthAdjust="spacingAndGlyphs" stroke="#000" stroke-width="0.35">200</text>
<text x="383.6" y="401.9" font-size="12" font-weight="bold" text-anchor="end" textLength="17.6" lengthAdjust="spacingAndGlyphs" stroke="#000" stroke-width="0.35">300</text>
<text x="383.6" y="362.0" font-size="12" font-weight="bold" text-anchor="end" textLength="17.6" lengthAdjust="spacingAndGlyphs" stroke="#000" stroke-width="0.35">400</text>
<text x="383.6" y="322.1" font-size="12" font-weight="bold" text-anchor="end" textLength="17.6" lengthAdjust="spacingAndGlyphs" stroke="#000" stroke-width="0.35">500</text>
<text x="383.6" y="282.2" font-size="12" font-weight="bold" text-anchor="end" textLength="17.6" lengthAdjust="spacingAndGlyphs" stroke="#000" stroke-width="0.35">600</text>
<text x="391.0" y="530.0" font-size="10" font-weight="bold" text-anchor="start" textLength="36.0" lengthAdjust="spacingAndGlyphs" stroke="#000" stroke-width="0.5">Control</text>
<text x="431.6" y="530.0" font-size="10" font-weight="bold" text-anchor="start" textLength="44.4" lengthAdjust="spacingAndGlyphs" stroke="#000" stroke-width="0.5">Harmalol</text>
<text x="487.4" y="530.0" font-size="10" font-weight="bold" text-anchor="start" textLength="23.6" lengthAdjust="spacingAndGlyphs" stroke="#000" stroke-width="0.5">CCl<tspan font-size="10" dy="2.6">4</tspan></text>
<text x="525.0" y="530.0" font-size="10" font-weight="bold" text-anchor="start" textLength="21.0" lengthAdjust="spacingAndGlyphs" stroke="#000" stroke-width="0.5">DEN</text>
<text x="568.0" y="530.0" font-size="10" font-weight="bold" text-anchor="start" textLength="27.6" lengthAdjust="spacingAndGlyphs" stroke="#000" stroke-width="0.5">DEN+</text>
<text x="568.0" y="540.0" font-size="10" font-weight="bold" text-anchor="start" textLength="23.6" lengthAdjust="spacingAndGlyphs" stroke="#000" stroke-width="0.5">CCl<tspan font-size="10" dy="2.6">4</tspan></text>
<text x="611.6" y="530.0" font-size="10" font-weight="bold" text-anchor="start" textLength="24.0" lengthAdjust="spacingAndGlyphs" stroke="#000" stroke-width="0.5">PreT</text>
<text x="651.4" y="530.0" font-size="10" font-weight="bold" text-anchor="start" textLength="28.6" lengthAdjust="spacingAndGlyphs" stroke="#000" stroke-width="0.5">PostT</text>
<text x="397.4" y="300.0" font-size="22" font-weight="bold" text-anchor="start" textLength="15.2" lengthAdjust="spacingAndGlyphs" stroke="#000" stroke-width="0.35">D</text>
<rect x="413" y="324.4" width="27.40" height="8.20" fill="#ff0000"/>
<rect x="413" y="339.4" width="27.40" height="8.20" fill="#00ff00"/>
<rect x="413" y="354" width="27.40" height="8.00" fill="#0000ff"/>
<rect x="413" y="368" width="27.40" height="8.00" fill="#00ffff"/>
<text x="444.0" y="333.0" font-size="11" font-weight="bold" text-anchor="start" textLength="53.6" lengthAdjust="spacingAndGlyphs" stroke="#000" stroke-width="0.45">1st Week</text>
<text x="444.0" y="347.6" font-size="11" font-weight="bold" text-anchor="start" textLength="54.0" lengthAdjust="spacingAndGlyphs" stroke="#000" stroke-width="0.45">7th Week</text>
<text x="444.0" y="362.0" font-size="11" font-weight="bold" text-anchor="start" textLength="61.0" lengthAdjust="spacingAndGlyphs" stroke="#000" stroke-width="0.45">14th Week</text>
<text x="444.0" y="375.4" font-size="11" font-weight="bold" text-anchor="start" textLength="61.0" lengthAdjust="spacingAndGlyphs" stroke="#000" stroke-width="0.45">21st Week</text>
<text transform="translate(356.6,397.5) rotate(-90)" font-size="14.5" font-weight="bold" stroke="#000" stroke-width="0.3" text-anchor="middle" textLength="69" lengthAdjust="spacingAndGlyphs">AST (IU/L)</text>
<g transform="translate(447.6,465.8)"><ellipse cx="0" cy="-0.6" rx="3.1" ry="1.25"/><ellipse cx="0" cy="-1.5" rx="1.5" ry="1.35"/><rect x="-0.7" y="-0.5" width="1.4" height="2.6"/><rect x="-2.4" y="1.6" width="4.8" height="1.1"/></g>
<g transform="translate(488.8,398.7)"><ellipse cx="0" cy="-0.6" rx="3.1" ry="1.25"/><ellipse cx="0" cy="-1.5" rx="1.5" ry="1.35"/><rect x="-0.7" y="-0.5" width="1.4" height="2.6"/><rect x="-2.4" y="1.6" width="4.8" height="1.1"/></g>
<g transform="translate(534.6,371.5)"><ellipse cx="0" cy="-0.6" rx="3.1" ry="1.25"/><ellipse cx="0" cy="-1.5" rx="1.5" ry="1.35"/><rect x="-0.7" y="-0.5" width="1.4" height="2.6"/><rect x="-2.4" y="1.6" width="4.8" height="1.1"/></g>
<g transform="translate(576.0,307.8)"><ellipse cx="0" cy="-0.6" rx="3.1" ry="1.25"/><ellipse cx="0" cy="-1.5" rx="1.5" ry="1.35"/><rect x="-0.7" y="-0.5" width="1.4" height="2.6"/><rect x="-2.4" y="1.6" width="4.8" height="1.1"/></g>
<text x="611.3" y="457.3" font-size="15" font-weight="normal" textLength="8.4" lengthAdjust="spacingAndGlyphs" stroke="#000" stroke-width="0.35">#</text>
<text x="659.4" y="418.5" font-size="15" font-weight="normal" textLength="8.4" lengthAdjust="spacingAndGlyphs" stroke="#000" stroke-width="0.35">#</text>
</g>
<g>
<rect x="213.40" y="765.60" width="8.60" height="18.10" fill="#ff0000" stroke="#151515" stroke-width="0.85"/>
<rect x="222.00" y="765.40" width="8.60" height="18.30" fill="#00ff00" stroke="#151515" stroke-width="0.85"/>
<rect x="230.60" y="766.00" width="8.80" height="17.70" fill="#0000ff" stroke="#151515" stroke-width="0.85"/>
<rect x="239.40" y="765.40" width="8.60" height="18.30" fill="#00ffff" stroke="#151515" stroke-width="0.85"/>
<path d="M217.70 764.60V766.60M214.50 764.60H220.90M214.50 766.60H220.90" stroke="#000" stroke-width="1.35" fill="none"/>
<path d="M226.30 764.40V766.40M223.10 764.40H229.50M223.10 766.40H229.50" stroke="#000" stroke-width="1.35" fill="none"/>
<path d="M235.00 765.00V767.00M231.80 765.00H238.20M231.80 767.00H238.20" stroke="#000" stroke-width="1.35" fill="none"/>
<path d="M243.70 764.40V766.40M240.50 764.40H246.90M240.50 766.40H246.90" stroke="#000" stroke-width="1.35" fill="none"/>
<rect x="256.40" y="762.00" width="8.60" height="21.70" fill="#ff0000" stroke="#151515" stroke-width="0.85"/>
<rect x="265.00" y="757.00" width="8.40" height="26.70" fill="#00ff00" stroke="#151515" stroke-width="0.85"/>
<rect x="273.40" y="753.40" width="8.20" height="30.30" fill="#0000ff" stroke="#151515" stroke-width="0.85"/>
<rect x="281.60" y="747.00" width="8.40" height="36.70" fill="#00ffff" stroke="#151515" stroke-width="0.85"/>
<path d="M260.70 761.00V763.00M257.50 761.00H263.90M257.50 763.00H263.90" stroke="#000" stroke-width="1.35" fill="none"/>
<path d="M269.20 755.50V758.50M266.00 755.50H272.40M266.00 758.50H272.40" stroke="#000" stroke-width="1.35" fill="none"/>
<path d="M277.50 752.40V754.40M274.30 752.40H280.70M274.30 754.40H280.70" stroke="#000" stroke-width="1.35" fill="none"/>
<path d="M285.80 745.00V749.00M282.60 745.00H289.00M282.60 749.00H289.00" stroke="#000" stroke-width="1.35" fill="none"/>
<rect x="298.40" y="760.60" width="8.00" height="23.10" fill="#ff0000" stroke="#151515" stroke-width="0.85"/>
<rect x="306.40" y="727.00" width="8.60" height="56.70" fill="#00ff00" stroke="#151515" stroke-width="0.85"/>
<rect x="315.00" y="690.60" width="8.60" height="93.10" fill="#0000ff" stroke="#151515" stroke-width="0.85"/>
<rect x="323.60" y="645.00" width="8.00" height="138.70" fill="#00ffff" stroke="#151515" stroke-width="0.85"/>
<path d="M302.40 758.60V762.60M299.20 758.60H305.60M299.20 762.60H305.60" stroke="#000" stroke-width="1.35" fill="none"/>
<path d="M310.70 725.30V728.70M307.50 725.30H313.90M307.50 728.70H313.90" stroke="#000" stroke-width="1.35" fill="none"/>
<path d="M319.30 688.10V693.10M316.10 688.10H322.50M316.10 693.10H322.50" stroke="#000" stroke-width="1.35" fill="none"/>
<path d="M327.60 641.00V649.00M324.40 641.00H330.80M324.40 649.00H330.80" stroke="#000" stroke-width="1.35" fill="none"/>
<rect x="339.40" y="754.60" width="9.60" height="29.10" fill="#ff0000" stroke="#151515" stroke-width="0.85"/>
<rect x="349.00" y="724.00" width="7.60" height="59.70" fill="#00ff00" stroke="#151515" stroke-width="0.85"/>
<rect x="356.60" y="684.60" width="9.00" height="99.10" fill="#0000ff" stroke="#151515" stroke-width="0.85"/>
<rect x="365.60" y="618.60" width="8.40" height="165.10" fill="#00ffff" stroke="#151515" stroke-width="0.85"/>
<path d="M344.20 752.10V757.10M341.00 752.10H347.40M341.00 757.10H347.40" stroke="#000" stroke-width="1.35" fill="none"/>
<path d="M352.80 721.50V726.50M349.60 721.50H356.00M349.60 726.50H356.00" stroke="#000" stroke-width="1.35" fill="none"/>
<path d="M361.10 681.30V687.90M357.90 681.30H364.30M357.90 687.90H364.30" stroke="#000" stroke-width="1.35" fill="none"/>
<path d="M369.80 613.40V623.80M366.60 613.40H373.00M366.60 623.80H373.00" stroke="#000" stroke-width="1.35" fill="none"/>
<rect x="381.60" y="740.00" width="9.40" height="43.70" fill="#ff0000" stroke="#151515" stroke-width="0.85"/>
<rect x="391.00" y="685.00" width="8.00" height="98.70" fill="#00ff00" stroke="#151515" stroke-width="0.85"/>
<rect x="399.00" y="642.40" width="8.60" height="141.30" fill="#0000ff" stroke="#151515" stroke-width="0.85"/>
<rect x="407.60" y="576.00" width="8.40" height="207.70" fill="#00ffff" stroke="#151515" stroke-width="0.85"/>
<path d="M386.30 736.40V743.60M383.10 736.40H389.50M383.10 743.60H389.50" stroke="#000" stroke-width="1.35" fill="none"/>
<path d="M395.00 681.20V688.80M391.80 681.20H398.20M391.80 688.80H398.20" stroke="#000" stroke-width="1.35" fill="none"/>
<path d="M403.30 638.40V646.40M400.10 638.40H406.50M400.10 646.40H406.50" stroke="#000" stroke-width="1.35" fill="none"/>
<path d="M411.80 569.30V582.70M408.60 569.30H415.00M408.60 582.70H415.00" stroke="#000" stroke-width="1.35" fill="none"/>
<rect x="424.60" y="759.60" width="8.40" height="24.10" fill="#ff0000" stroke="#151515" stroke-width="0.85"/>
<rect x="433.00" y="755.60" width="8.00" height="28.10" fill="#00ff00" stroke="#151515" stroke-width="0.85"/>
<rect x="441.00" y="754.60" width="8.60" height="29.10" fill="#0000ff" stroke="#151515" stroke-width="0.85"/>
<rect x="449.60" y="747.00" width="8.40" height="36.70" fill="#00ffff" stroke="#151515" stroke-width="0.85"/>
<path d="M428.80 758.90V760.30M425.60 758.90H432.00M425.60 760.30H432.00" stroke="#000" stroke-width="1.35" fill="none"/>
<path d="M437.00 752.80V758.40M433.80 752.80H440.20M433.80 758.40H440.20" stroke="#000" stroke-width="1.35" fill="none"/>
<path d="M445.30 753.90V755.30M442.10 753.90H448.50M442.10 755.30H448.50" stroke="#000" stroke-width="1.35" fill="none"/>
<path d="M453.80 744.70V749.30M450.60 744.70H457.00M450.60 749.30H457.00" stroke="#000" stroke-width="1.35" fill="none"/>
<rect x="466.60" y="738.60" width="8.00" height="45.10" fill="#ff0000" stroke="#151515" stroke-width="0.85"/>
<rect x="474.60" y="690.60" width="8.40" height="93.10" fill="#00ff00" stroke="#151515" stroke-width="0.85"/>
<rect x="483.00" y="720.00" width="8.60" height="63.70" fill="#0000ff" stroke="#151515" stroke-width="0.85"/>
<rect x="491.60" y="759.00" width="8.40" height="24.70" fill="#00ffff" stroke="#151515" stroke-width="0.85"/>
<path d="M470.60 734.90V742.30M467.40 734.90H473.80M467.40 742.30H473.80" stroke="#000" stroke-width="1.35" fill="none"/>
<path d="M478.80 687.80V693.40M475.60 687.80H482.00M475.60 693.40H482.00" stroke="#000" stroke-width="1.35" fill="none"/>
<path d="M487.30 717.80V722.20M484.10 717.80H490.50M484.10 722.20H490.50" stroke="#000" stroke-width="1.35" fill="none"/>
<path d="M495.80 756.50V761.50M492.60 756.50H499.00M492.60 761.50H499.00" stroke="#000" stroke-width="1.35" fill="none"/>
<rect x="210.3" y="543.7" width="293.50" height="240.00" fill="none" stroke="#000" stroke-width="2.5"/>
<line x1="210.3" x2="217.6" y1="783.20" y2="783.20" stroke="#000" stroke-width="2"/>
<line x1="210.3" x2="217.6" y1="739.77" y2="739.77" stroke="#000" stroke-width="2"/>
<line x1="210.3" x2="217.6" y1="696.34" y2="696.34" stroke="#000" stroke-width="2"/>
<line x1="210.3" x2="217.6" y1="652.91" y2="652.91" stroke="#000" stroke-width="2"/>
<line x1="210.3" x2="217.6" y1="609.48" y2="609.48" stroke="#000" stroke-width="2"/>
<line x1="210.3" x2="217.6" y1="566.05" y2="566.05" stroke="#000" stroke-width="2"/>
<line x1="210.3" x2="217" y1="761.49" y2="761.49" stroke="#000" stroke-width="2"/>
<line x1="210.3" x2="217" y1="718.06" y2="718.06" stroke="#000" stroke-width="2"/>
<line x1="210.3" x2="217" y1="674.62" y2="674.62" stroke="#000" stroke-width="2"/>
<line x1="210.3" x2="217" y1="631.20" y2="631.20" stroke="#000" stroke-width="2"/>
<line x1="210.3" x2="217" y1="587.77" y2="587.77" stroke="#000" stroke-width="2"/>
<text x="206.4" y="787.1" font-size="11.5" font-weight="bold" text-anchor="end" textLength="6.0" lengthAdjust="spacingAndGlyphs" stroke="#000" stroke-width="0.35">0</text>
<text x="206.4" y="743.7" font-size="11.5" font-weight="bold" text-anchor="end" textLength="19.4" lengthAdjust="spacingAndGlyphs" stroke="#000" stroke-width="0.35">100</text>
<text x="206.4" y="700.2" font-size="11.5" font-weight="bold" text-anchor="end" textLength="19.4" lengthAdjust="spacingAndGlyphs" stroke="#000" stroke-width="0.35">200</text>
<text x="206.4" y="656.8" font-size="11.5" font-weight="bold" text-anchor="end" textLength="19.4" lengthAdjust="spacingAndGlyphs" stroke="#000" stroke-width="0.35">300</text>
<text x="206.4" y="613.4" font-size="11.5" font-weight="bold" text-anchor="end" textLength="19.4" lengthAdjust="spacingAndGlyphs" stroke="#000" stroke-width="0.35">400</text>
<text x="206.4" y="570.0" font-size="11.5" font-weight="bold" text-anchor="end" textLength="19.4" lengthAdjust="spacingAndGlyphs" stroke="#000" stroke-width="0.35">500</text>
<text x="209.6" y="796.4" font-size="10" font-weight="bold" text-anchor="start" textLength="36.8" lengthAdjust="spacingAndGlyphs" stroke="#000" stroke-width="0.5">Control</text>
<text x="250.4" y="796.4" font-size="10" font-weight="bold" text-anchor="start" textLength="44.2" lengthAdjust="spacingAndGlyphs" stroke="#000" stroke-width="0.5">Harmalol</text>
<text x="306.0" y="796.4" font-size="10" font-weight="bold" text-anchor="start" textLength="24.0" lengthAdjust="spacingAndGlyphs" stroke="#000" stroke-width="0.5">CCl<tspan font-size="10" dy="2.6">4</tspan></text>
<text x="343.4" y="796.4" font-size="10" font-weight="bold" text-anchor="start" textLength="21.2" lengthAdjust="spacingAndGlyphs" stroke="#000" stroke-width="0.5">DEN</text>
<text x="387.0" y="796.4" font-size="10" font-weight="bold" text-anchor="start" textLength="27.6" lengthAdjust="spacingAndGlyphs" stroke="#000" stroke-width="0.5">DEN+</text>
<text x="387.0" y="806.0" font-size="10" font-weight="bold" text-anchor="start" textLength="23.6" lengthAdjust="spacingAndGlyphs" stroke="#000" stroke-width="0.5">CCl<tspan font-size="10" dy="2.6">4</tspan></text>
<text x="430.6" y="796.4" font-size="10" font-weight="bold" text-anchor="start" textLength="23.4" lengthAdjust="spacingAndGlyphs" stroke="#000" stroke-width="0.5">PreT</text>
<text x="470.0" y="796.4" font-size="10" font-weight="bold" text-anchor="start" textLength="28.6" lengthAdjust="spacingAndGlyphs" stroke="#000" stroke-width="0.5">PostT</text>
<text x="220.0" y="571.4" font-size="22" font-weight="bold" text-anchor="start" textLength="13.0" lengthAdjust="spacingAndGlyphs" stroke="#000" stroke-width="0.35">E</text>
<rect x="232.6" y="596.6" width="27.00" height="8.40" fill="#ff0000"/>
<rect x="232.6" y="611.4" width="27.00" height="7.60" fill="#00ff00"/>
<rect x="232.6" y="626" width="27.00" height="7.40" fill="#0000ff"/>
<rect x="232.6" y="640" width="27.00" height="7.40" fill="#00ffff"/>
<text x="264.0" y="604.4" font-size="13" font-weight="bold" text-anchor="start" textLength="47.0" lengthAdjust="spacingAndGlyphs" stroke="#000" stroke-width="0.45">1st week</text>
<text x="264.0" y="618.6" font-size="13" font-weight="bold" text-anchor="start" textLength="49.0" lengthAdjust="spacingAndGlyphs" stroke="#000" stroke-width="0.45">7th week</text>
<text x="264.0" y="633.0" font-size="13" font-weight="bold" text-anchor="start" textLength="55.4" lengthAdjust="spacingAndGlyphs" stroke="#000" stroke-width="0.45">14th week</text>
<text x="264.0" y="648.0" font-size="13" font-weight="bold" text-anchor="start" textLength="54.0" lengthAdjust="spacingAndGlyphs" stroke="#000" stroke-width="0.45">21st week</text>
<text transform="translate(182.6,672.8) rotate(-90)" font-size="14.5" font-weight="bold" stroke="#000" stroke-width="0.3" text-anchor="middle" textLength="69.6" lengthAdjust="spacingAndGlyphs">ALT(IU/L)</text>
<g transform="translate(271.8,727.1)"><ellipse cx="0" cy="-0.6" rx="3.1" ry="1.25"/><ellipse cx="0" cy="-1.5" rx="1.5" ry="1.35"/><rect x="-0.7" y="-0.5" width="1.4" height="2.6"/><rect x="-2.4" y="1.6" width="4.8" height="1.1"/></g>
<g transform="translate(304.2,693.5)"><ellipse cx="0" cy="-0.6" rx="3.1" ry="1.25"/><ellipse cx="0" cy="-1.5" rx="1.5" ry="1.35"/><rect x="-0.7" y="-0.5" width="1.4" height="2.6"/><rect x="-2.4" y="1.6" width="4.8" height="1.1"/></g>
<g transform="translate(357.2,600.1)"><ellipse cx="0" cy="-0.6" rx="3.1" ry="1.25"/><ellipse cx="0" cy="-1.5" rx="1.5" ry="1.35"/><rect x="-0.7" y="-0.5" width="1.4" height="2.6"/><rect x="-2.4" y="1.6" width="4.8" height="1.1"/></g>
<g transform="translate(398.5,564.3)"><ellipse cx="0" cy="-0.6" rx="3.1" ry="1.25"/><ellipse cx="0" cy="-1.5" rx="1.5" ry="1.35"/><rect x="-0.7" y="-0.5" width="1.4" height="2.6"/><rect x="-2.4" y="1.6" width="4.8" height="1.1"/></g>
<text x="436.0" y="731.7" font-size="15" font-weight="normal" textLength="8.4" lengthAdjust="spacingAndGlyphs" stroke="#000" stroke-width="0.35">#</text>
<text x="476.0" y="676.3" font-size="15" font-weight="normal" textLength="8.4" lengthAdjust="spacingAndGlyphs" stroke="#000" stroke-width="0.35">#</text>
</g>
</svg>
</body></html>
